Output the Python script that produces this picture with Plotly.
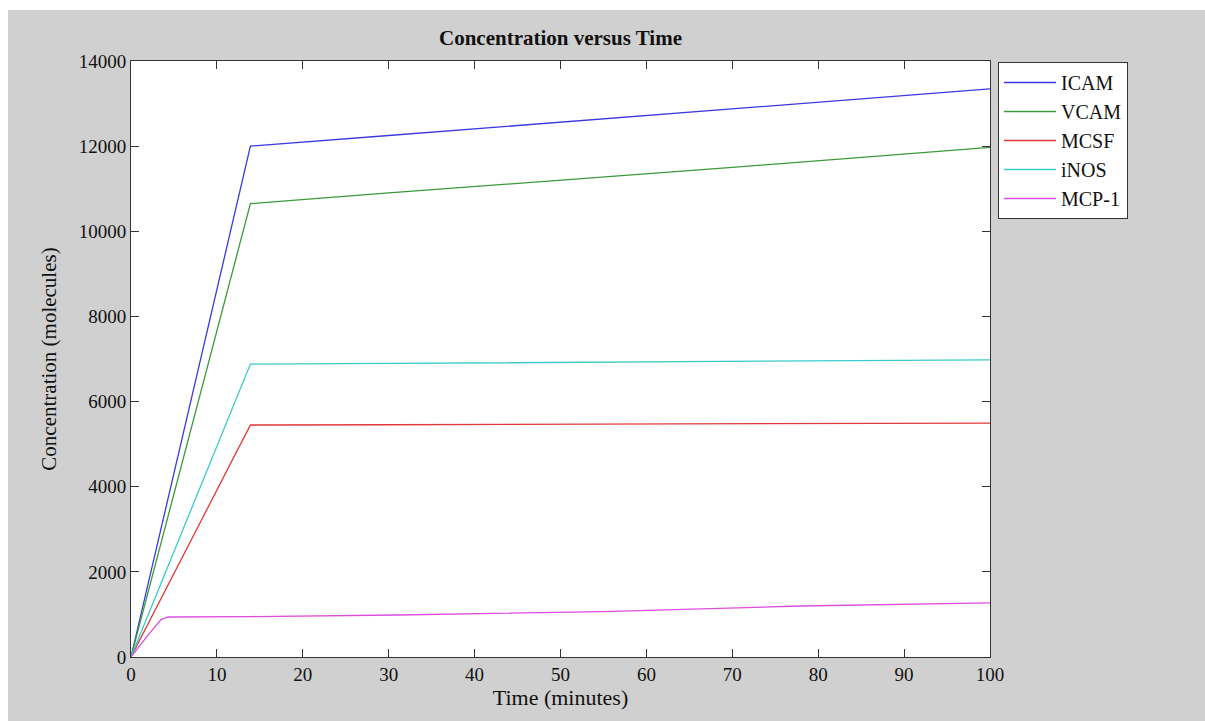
import plotly.graph_objects as go

# Data
t_main = [0, 13.9, 30, 50, 70, 100]
icam = [0, 12000, 12250, 12560, 12870, 13345]
vcam = [0, 10650, 10900, 11200, 11500, 11970]
mcsf = [0, 5450, 5455, 5465, 5475, 5495]
inos = [0, 6880, 6895, 6915, 6940, 6980]

t_mcp = [0, 2, 3.5, 4.3, 14, 31, 55, 78, 100]
mcp1 = [0, 520, 880, 940, 950, 987, 1064, 1198, 1270]

series = [
    ("ICAM", t_main, icam, "#3a3ae0"),
    ("VCAM", t_main, vcam, "#3a9a3a"),
    ("MCSF", t_main, mcsf, "#e03a3a"),
    ("iNOS", t_main, inos, "#3acccc"),
    ("MCP-1", t_mcp, mcp1, "#dd4ddd"),
]

x_ticks = [0, 10, 20, 30, 40, 50, 60, 70, 80, 90, 100]
y_ticks = [0, 2000, 4000, 6000, 8000, 10000, 12000, 14000]
y_tick_text = ["0", "2000", "4000", "6000", "8000", "10000", "12000", "14000"]

fig = go.Figure()
for name, xs, ys, col in series:
    fig.add_trace(go.Scatter(x=xs, y=ys, mode="lines", name=name,
                             line=dict(color=col, width=1.3)))

font_family = "Liberation Serif, Times New Roman, serif"

axis_common = dict(
    showgrid=False, zeroline=False, showline=True, linecolor="#333333",
    linewidth=1, mirror="ticks", ticks="inside", ticklen=8,
    tickcolor="#333333", tickfont=dict(family=font_family, size=19, color="#111111"),
)

fig.update_layout(
    width=1205, height=721,
    margin=dict(l=131, r=215, t=61, b=64),
    paper_bgcolor="#d0d0d0",
    plot_bgcolor="white",
    title=dict(text="<b>Concentration versus Time</b>",
               font=dict(family=font_family, size=21, color="#111111"),
               x=(560.5) / 1205, xanchor="center", y=1 - 38 / 721, yanchor="middle"),
    xaxis=dict(range=[0, 100], tickvals=x_ticks,
               title=dict(text="Time (minutes)", standoff=4,
                          font=dict(family=font_family, size=22, color="#111111")),
               **axis_common),
    yaxis=dict(range=[0, 14000], tickvals=y_ticks, ticktext=y_tick_text,
               title=dict(text="Concentration (molecules)", standoff=16,
                          font=dict(family=font_family, size=21, color="#111111")),
               **axis_common),
    legend=dict(x=(998 - 131) / 859, y=(657 - 62) / 596, xanchor="left", yanchor="top",
                bgcolor="white", bordercolor="#333333", borderwidth=1,
                font=dict(family=font_family, size=20, color="#111111"),
                tracegroupgap=0, itemwidth=52),
    showlegend=True,
    shapes=[
        # white strips at top and left of the figure
        dict(type="rect", xref="paper", yref="paper", x0=-0.2, x1=1.3,
             y0=(657 - 10) / 596, y1=1.2, fillcolor="white", line=dict(width=0), layer="below"),
        dict(type="rect", xref="paper", yref="paper", x0=-0.2, x1=(8 - 131) / 859,
             y0=-0.2, y1=1.2, fillcolor="white", line=dict(width=0), layer="below"),
    ],
)

fig.write_html("out.html")
